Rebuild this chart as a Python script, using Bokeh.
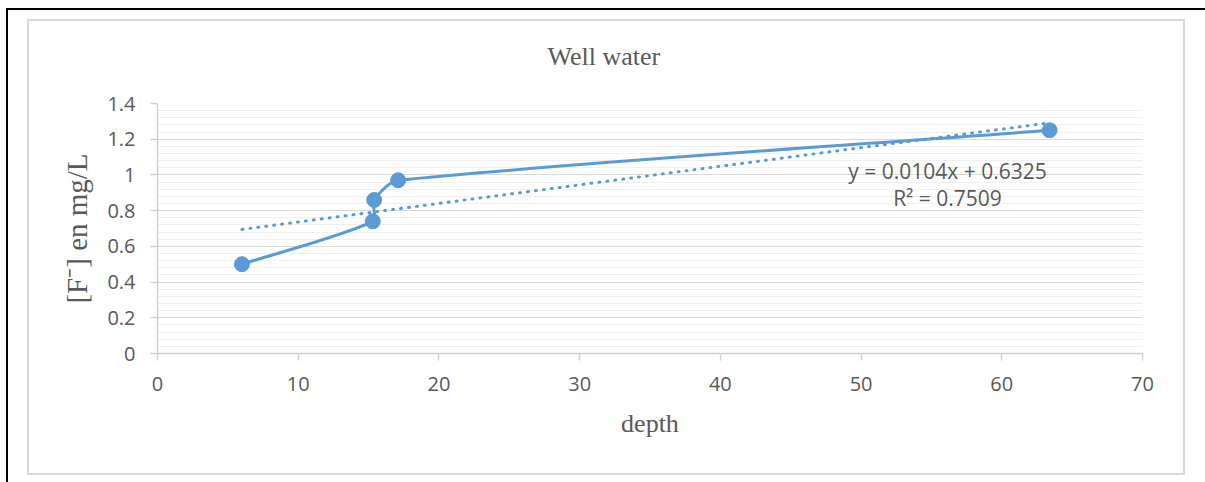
import numpy as np
from bokeh.plotting import figure
from bokeh.models import Range1d, FixedTicker, NumeralTickFormatter, Label, Column
from bokeh.embed import file_html
from bokeh.resources import INLINE

# ---- data ----
depth = [6.0, 15.3, 15.4, 17.1, 63.4]
fluoride = [0.50, 0.74, 0.86, 0.97, 1.25]
trend_slope = 0.0104
trend_intercept = 0.6325
trend_r2 = 0.7509
x_ticks = [0, 10, 20, 30, 40, 50, 60, 70]
y_ticks = [0.0, 0.2, 0.4, 0.6, 0.8, 1.0, 1.2, 1.4]
title_text = "Well water"
x_label_text = "depth"
y_label_text = "[F\u207b] en mg/L"

BLUE = "#5B9BD5"
TXT = "#595959"
X_MIN, X_MAX = 0, 70
Y_MIN, Y_MAX = 0, 1.4

# canvas sits inside the grey chart border, shifted up so the title has room
SHIFT = 14
W, H = 1154, 452 + SHIFT
ML, MR, MT, MB = 128, 41, 82 + SHIFT, 120
FW, FH = W - ML - MR, H - MT - MB

p = figure(width=W, height=H, output_backend="svg", toolbar_location=None,
           x_range=Range1d(X_MIN, X_MAX), y_range=Range1d(Y_MIN, Y_MAX),
           min_border_left=ML, min_border_right=MR, min_border_top=MT, min_border_bottom=MB,
           title=title_text)
p.outline_line_color = None
p.background_fill_color = "white"
p.border_fill_alpha = 0

p.title.align = "left"
p.title.offset = 390
p.title.vertical_align = "bottom"
p.title.standoff = 65
p.title.text_font = "Liberation Serif"
p.title.text_font_size = "26px"
p.title.text_font_style = "normal"
p.title.text_color = TXT

# axes
minor = list(np.round(np.arange(0, 1.4001, 0.04), 2))
p.xaxis.ticker = FixedTicker(ticks=x_ticks)
p.yaxis.ticker = FixedTicker(ticks=y_ticks, minor_ticks=minor)
p.yaxis.formatter = NumeralTickFormatter(format="0.[0]")
for ax in (p.xaxis, p.yaxis):
    ax.axis_line_color = "#D0D0D0"
    ax.axis_line_width = 1.5
    ax.major_tick_line_color = "#D0D0D0"
    ax.major_tick_line_width = 1.5
    ax.major_tick_out = 7
    ax.major_tick_in = 0
    ax.minor_tick_out = 0
    ax.minor_tick_in = 0
    ax.major_label_text_font = "Open Sans"
    ax.major_label_text_font_size = "20px"
    ax.major_label_text_color = TXT
    ax.axis_label_text_font = "Liberation Serif"
    ax.axis_label_text_font_style = "normal"
    ax.axis_label_text_color = TXT
p.xaxis.major_label_standoff = 16
p.yaxis.major_label_standoff = 15
p.xaxis.axis_label = x_label_text
p.xaxis.axis_label_text_font_size = "26px"
p.xaxis.axis_label_standoff = 15
p.yaxis.axis_label = y_label_text
p.yaxis.axis_label_text_font_size = "29px"
p.yaxis.axis_label_standoff = 11

p.xgrid.visible = False
p.ygrid.grid_line_color = "#D9D9D9"
p.ygrid.grid_line_width = 1.2
p.ygrid.minor_grid_line_color = "#EFEFEF"
p.ygrid.minor_grid_line_width = 1.2

# smooth line through points (Bezier segments, tangents in screen-proportional space)
kx = FW / (X_MAX - X_MIN)
ky = FH / (Y_MAX - Y_MIN)
P = np.column_stack([np.array(depth) * kx, np.array(fluoride) * ky])
n = len(P)
T = []
for i in range(n):
    if i == 0:
        d = P[1] - P[0]
    elif i == n - 1:
        d = P[-1] - P[-2]
    else:
        d = P[i + 1] - P[i - 1]
    T.append(d / np.linalg.norm(d))
T = np.array(T)
x0, y0, x1, y1, cx0, cy0, cx1, cy1 = ([] for _ in range(8))
for i in range(n - 1):
    L = np.linalg.norm(P[i + 1] - P[i])
    c0 = P[i] + T[i] * L / 4
    c1 = P[i + 1] - T[i + 1] * L / 4
    x0.append(depth[i]); y0.append(fluoride[i])
    x1.append(depth[i + 1]); y1.append(fluoride[i + 1])
    cx0.append(c0[0] / kx); cy0.append(c0[1] / ky)
    cx1.append(c1[0] / kx); cy1.append(c1[1] / ky)
p.bezier(x0=x0, y0=y0, x1=x1, y1=y1, cx0=cx0, cy0=cy0, cx1=cx1, cy1=cy1,
         line_color=BLUE, line_width=3)

# linear trendline (dotted)
tx = [min(depth), max(depth)]
ty = [trend_slope * v + trend_intercept for v in tx]
p.line(tx, ty, line_color=BLUE, line_width=3, line_dash="1 7", line_cap="round")

p.scatter(depth, fluoride, size=15, fill_color=BLUE, line_color=BLUE)

eq1 = f"y = {trend_slope}x + {trend_intercept}"
eq2 = f"R\u00b2 = {trend_r2}"
for txt, yy in ((eq1, 163), (eq2, 190)):
    p.add_layout(Label(x=918, y=yy, x_units="canvas", y_units="canvas", text=txt,
                       text_font="Open Sans", text_font_size="21px", text_color=TXT,
                       text_align="center", text_baseline="middle"))

p.styles = {"margin-top": f"-{SHIFT}px"}
inner = Column(children=[p], styles={"border": "2px solid #D9D9D9"})
root = Column(children=[inner], styles={
    "margin-left": "6px", "margin-top": "8px",
    "border-left": "2px solid black", "border-top": "2px solid black",
    "padding-left": "19px", "padding-top": "9px",
    "padding-right": "40px", "padding-bottom": "40px"})

open("out.html", "w").write(file_html(root, INLINE))
